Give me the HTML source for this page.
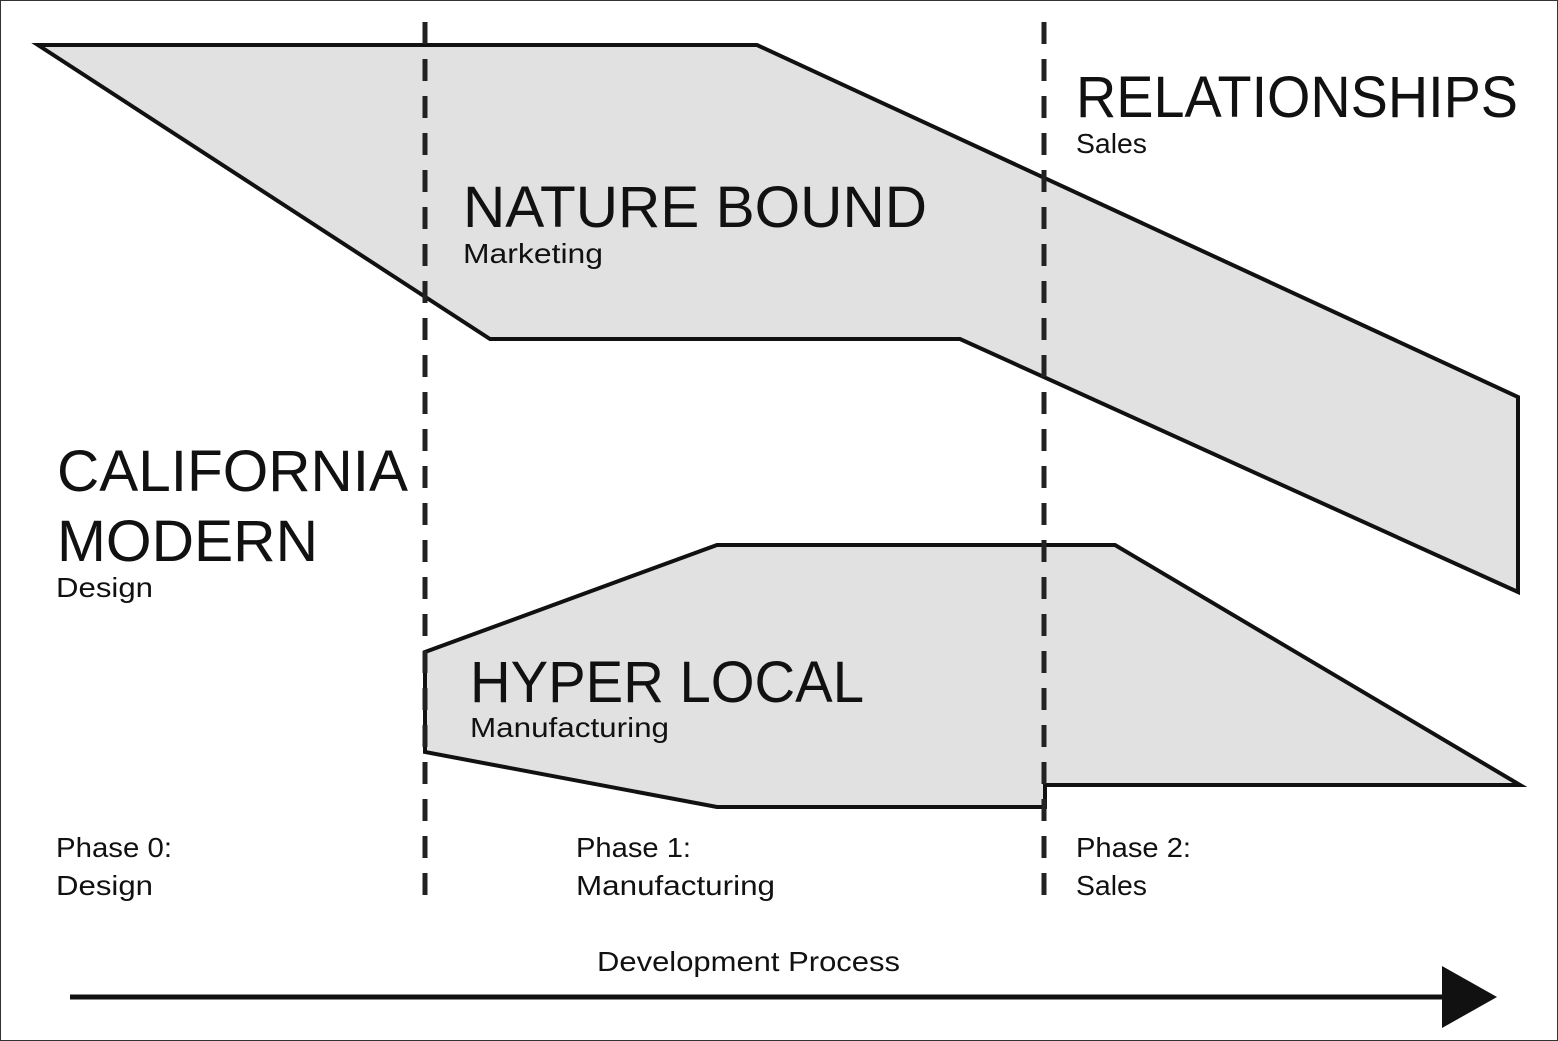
<!DOCTYPE html>
<html><head><meta charset="utf-8"><style>
html,body{margin:0;padding:0;background:#fff}
svg{display:block}
text{font-family:"Liberation Sans",sans-serif;fill:#111}
</style></head><body>
<svg width="1558" height="1041" viewBox="0 0 1558 1041" xmlns="http://www.w3.org/2000/svg">
<rect x="0.5" y="0.5" width="1557" height="1040" fill="#fff" stroke="#333" stroke-width="1"/>
<polygon points="38,45 757,45 1518,397 1518,592 960,339 490,339" fill="#e1e1e1" stroke="#111" stroke-width="4" stroke-linejoin="miter"/>
<polygon points="425,652 717,545 1115,545 1520,785 1045,785 1045,807 717,807 425,752" fill="#e1e1e1" stroke="#111" stroke-width="4"/>
<line x1="425" y1="22" x2="425" y2="896" stroke="#222" stroke-width="5" stroke-dasharray="22,15"/>
<line x1="1044" y1="22" x2="1044" y2="896" stroke="#222" stroke-width="5" stroke-dasharray="22,15"/>
<line x1="70" y1="997" x2="1450" y2="997" stroke="#111" stroke-width="5"/>
<polygon points="1442,966 1497,997 1442,1028" fill="#111"/>
<text x="1076" y="117" font-size="58" textLength="442" lengthAdjust="spacingAndGlyphs">RELATIONSHIPS</text>
<text x="1076" y="153" font-size="28" textLength="71" lengthAdjust="spacingAndGlyphs">Sales</text>
<text x="463" y="227" font-size="58" textLength="464" lengthAdjust="spacingAndGlyphs">NATURE BOUND</text>
<text x="463" y="263" font-size="28" textLength="140" lengthAdjust="spacingAndGlyphs">Marketing</text>
<text x="57" y="491" font-size="58" textLength="351" lengthAdjust="spacingAndGlyphs">CALIFORNIA</text>
<text x="57" y="561" font-size="58" textLength="261" lengthAdjust="spacingAndGlyphs">MODERN</text>
<text x="56" y="597" font-size="28" textLength="97" lengthAdjust="spacingAndGlyphs">Design</text>
<text x="470" y="702" font-size="58" textLength="394" lengthAdjust="spacingAndGlyphs">HYPER LOCAL</text>
<text x="470" y="737" font-size="28" textLength="199" lengthAdjust="spacingAndGlyphs">Manufacturing</text>
<text x="56" y="857" font-size="28" textLength="116" lengthAdjust="spacingAndGlyphs">Phase 0:</text>
<text x="56" y="895" font-size="28" textLength="97" lengthAdjust="spacingAndGlyphs">Design</text>
<text x="576" y="857" font-size="28" textLength="115" lengthAdjust="spacingAndGlyphs">Phase 1:</text>
<text x="576" y="895" font-size="28" textLength="199" lengthAdjust="spacingAndGlyphs">Manufacturing</text>
<text x="1076" y="857" font-size="28" textLength="115" lengthAdjust="spacingAndGlyphs">Phase 2:</text>
<text x="1076" y="895" font-size="28" textLength="71" lengthAdjust="spacingAndGlyphs">Sales</text>
<text x="597" y="971" font-size="28" textLength="303" lengthAdjust="spacingAndGlyphs">Development Process</text>
</svg>
</body></html>
